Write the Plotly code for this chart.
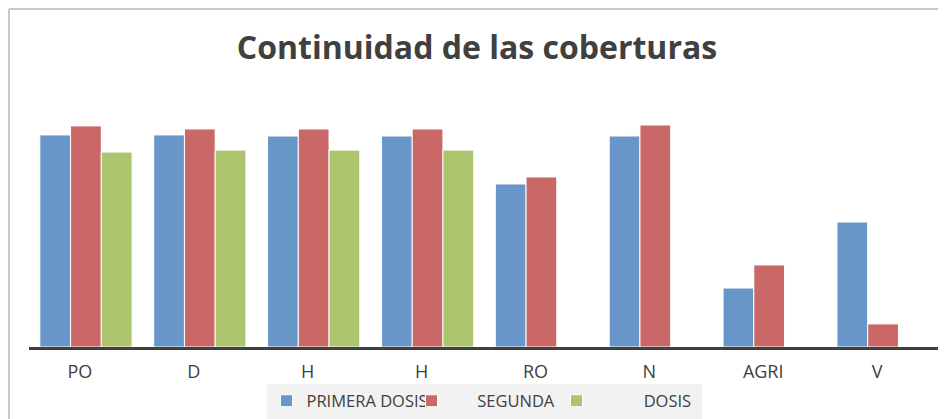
import plotly.graph_objects as go

# categories (note: "H" appears twice, so positions are numeric with tick text)
categories = ["PO", "D", "H", "H", "RO", "N", "AGRI", "V"]
primera = [96.4, 96.4, 95.9, 95.9, 74.1, 95.9, 26.8, 56.8]
segunda = [100.5, 99.1, 99.1, 99.1, 77.3, 100.9, 37.3, 10.5]
dosis = [88.6, 89.5, 89.5, 89.5, None, None, None, None]

series_names = ["PRIMERA DOSIS", "\u00a0" * 6 + "SEGUNDA", "\u00a0" * 11 + "DOSIS"]
colors = ["#6996c8", "#c96867", "#adc56f"]

pos = list(range(len(categories)))

# page body keeps its default 8px margin, so the figure is sized to fit inside the window
W, H = 938, 411

fig = go.Figure()
for name, vals, col in zip(series_names, [primera, segunda, dosis], colors):
    fig.add_trace(go.Bar(
        x=pos, y=vals, name=name,
        marker=dict(color=col, line=dict(color="white", width=1)),
    ))

fig.update_layout(
    width=W, height=H,
    barmode="group", bargap=0.19, bargroupgap=0.0,
    plot_bgcolor="white", paper_bgcolor="white",
    margin=dict(l=21, r=6, t=86, b=72, autoexpand=False),
    font=dict(family="Open Sans", color="#404040", size=17),
    title=dict(text="<b>Continuidad de las coberturas</b>", x=0.5, xanchor="center",
               y=1 - 40 / H, yanchor="middle",
               font=dict(family="Open Sans", size=32, color="#404040")),
    showlegend=True,
    legend=dict(orientation="h", x=476 / W, xanchor="center", xref="container",
                y=1 - 393 / H, yanchor="middle", yref="container",
                bgcolor="#f2f2f2", entrywidth=100, font=dict(size=16.5, color="#404040"),
                itemwidth=30, traceorder="normal"),
    xaxis=dict(tickmode="array", tickvals=pos, ticktext=categories, range=[-0.5, 7.5],
               showline=True, linecolor="#404040", linewidth=3, showgrid=False,
               ticks="", zeroline=False, ticklabelshift=-6, ticklabelstandoff=6,
               tickfont=dict(size=18, color="#404040")),
    yaxis=dict(range=[0, 115], visible=False, showgrid=False, zeroline=False),
)

# chart-area border (partially visible on left and top)
fig.add_shape(type="line", xref="paper", yref="paper", x0=-0.022, x1=1.02, y0=1.336, y1=1.336,
              line=dict(color="#c8c8c8", width=2))
fig.add_shape(type="line", xref="paper", yref="paper", x0=-0.022, x1=-0.022, y0=1.336, y1=-0.3,
              line=dict(color="#c8c8c8", width=2))

fig.write_html("out.html")
